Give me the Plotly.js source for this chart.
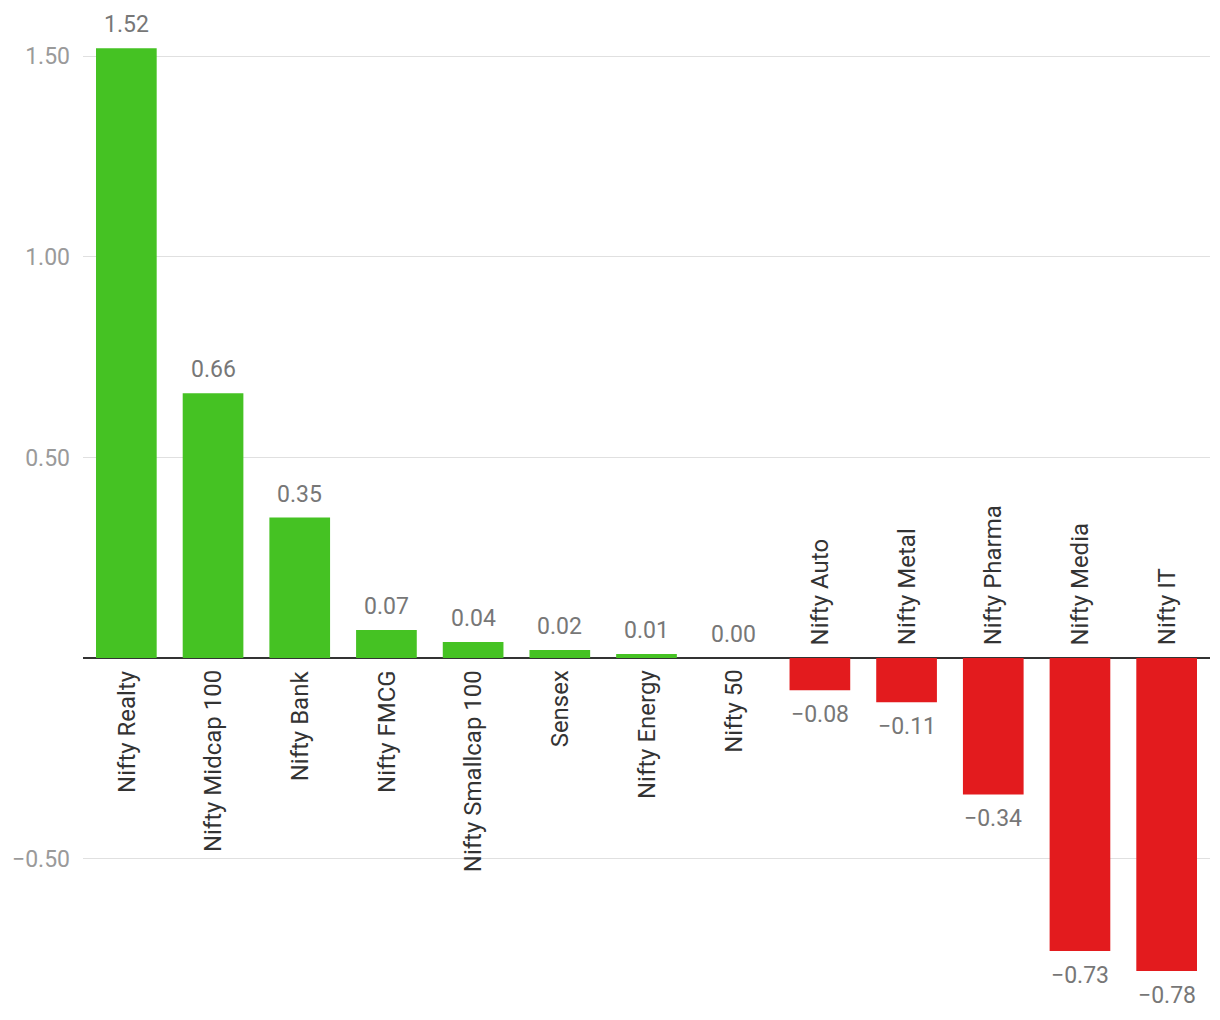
<!DOCTYPE html>
<html>
<head>
<meta charset="utf-8">
<script src="https://cdn.plot.ly/plotly-3.0.1.min.js"></script>
<style>html,body{margin:0;padding:0;background:#fff;}#chart{width:1220px;height:1020px;}</style>
</head>
<body>
<div id="chart"></div>
<script>
const categories = ["Nifty Realty","Nifty Midcap 100","Nifty Bank","Nifty FMCG","Nifty Smallcap 100","Sensex","Nifty Energy","Nifty 50","Nifty Auto","Nifty Metal","Nifty Pharma","Nifty Media","Nifty IT"];
const values = [1.52,0.66,0.35,0.07,0.04,0.02,0.01,0.00,-0.08,-0.11,-0.34,-0.73,-0.78];
const tickValues = [-0.5,0.5,1.0,1.5];
const tickLabels = ["\u22120.50","0.50","1.00","1.50"];

const GREEN = "#45c223";
const RED = "#e31b1e";
const FONT = "Roboto, 'Open Sans', sans-serif";

const trace = {
  type: "bar",
  x: categories,
  y: values,
  marker: {color: values.map(v => v < 0 ? RED : GREEN)},
  hoverinfo: "none"
};

const annotations = [];
categories.forEach((c, i) => {
  const v = values[i];
  const neg = v < 0;
  annotations.push({
    x: c, y: 0, xref: "x", yref: "y",
    text: c, showarrow: false, textangle: -90,
    xanchor: "center", yanchor: neg ? "bottom" : "top",
    yshift: neg ? 11 : -10,
    font: {family: FONT, size: 24, color: "#333333"}
  });
  const label = (neg ? "\u2212" : "") + Math.abs(v).toFixed(2);
  annotations.push({
    x: c, y: v, xref: "x", yref: "y",
    text: label, showarrow: false,
    xanchor: "center", yanchor: neg ? "top" : "bottom",
    yshift: neg ? -9 : 8,
    font: {family: FONT, size: 23, color: "#777777"}
  });
});

const layout = {
  width: 1220, height: 1020,
  margin: {l: 83, r: 10, t: 0, b: 0},
  paper_bgcolor: "#ffffff", plot_bgcolor: "#ffffff",
  showlegend: false,
  bargap: 0.3,
  font: {family: FONT},
  xaxis: {
    showticklabels: false, showgrid: false, zeroline: false, showline: false,
    fixedrange: true
  },
  yaxis: {
    range: [-0.902, 1.640],
    tickvals: tickValues, ticktext: tickLabels,
    showgrid: true, gridcolor: "#e0e0e0", gridwidth: 1,
    zeroline: true, zerolinecolor: "#333333", zerolinewidth: 2,
    showline: false, ticks: "",
    ticklabelstandoff: 12,
    tickfont: {family: FONT, size: 23, color: "#9a9a9a"},
    fixedrange: true
  },
  annotations: annotations
};

Plotly.newPlot("chart", [trace], layout, {displayModeBar: false, staticPlot: true});
</script>
</body>
</html>
